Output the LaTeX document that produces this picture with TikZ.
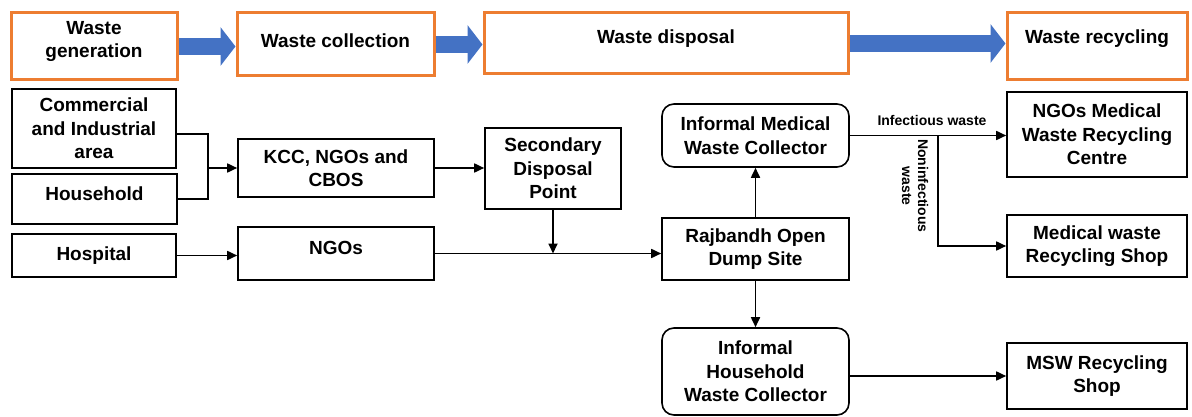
\documentclass[tikz,border=0pt]{standalone}
\usepackage{fontspec}
\setmainfont{Liberation Sans}
\usepackage{tikz}
\usetikzlibrary{arrows.meta}
\usepackage{xcolor}
\definecolor{kastenorange}{RGB}{237,125,49}
\definecolor{blau}{RGB}{68,114,196}
\newcommand{\grossschrift}{\bfseries\fontsize{19}{23.5}\selectfont}
\newcommand{\kleinschrift}{\bfseries\fontsize{14}{16}\selectfont}
\tikzset{
  kasten/.style={draw=black, line width=1.6pt, inner sep=0pt, align=center, font=\grossschrift},
  kopf/.style={kasten, draw=kastenorange, line width=3pt},
  rund/.style={kasten, rounded corners=12pt},
  hochtext/.style 2 args={label={[font=\grossschrift, align=center, yshift=#2]center:{#1}}},
  linie/.style={line width=1.7pt},
  pfeil/.style={linie, -{Triangle[length=10pt,width=9pt]}},
  blockpfeil/.style={blau, line width=17pt, -{Triangle[length=15pt,width=38pt]}},
  klein/.style={font=\kleinschrift, inner sep=1pt, align=center}
}

\begin{document}
\begin{tikzpicture}[x=1pt, y=-1pt]
    \useasboundingbox (0,0) rectangle (1192,417);

    % Kopfzeile
    \node[kopf, minimum width=166, minimum height=67, hochtext={Waste\\generation}{5pt}] (gen) at (94,46.5) {};
    \node[kopf, minimum width=197, minimum height=63, hochtext={Waste collection}{4pt}] (col) at (335.5,44.5) {};
    \node[kopf, minimum width=364, minimum height=61, hochtext={Waste disposal}{5pt}] (disp) at (666,43.5) {};
    \node[kopf, minimum width=180, minimum height=67, hochtext={Waste recycling}{8pt}] (rec) at (1097,46.5) {};

    \draw[blockpfeil] (gen.east) -- (gen.east -| col.west);
    \draw[blockpfeil] (col.east) -- (col.east -| disp.west);
    \draw[blockpfeil] (disp.east) -- (disp.east -| rec.west);

    % Quellen
    \node[kasten, minimum width=164, minimum height=79] (comm) at (94,128.5) {Commercial\\and Industrial\\area};
    \node[kasten, minimum width=165, minimum height=50, hochtext={Household}{5pt}] (house) at (94.5,199) {};
    \node[kasten, minimum width=164, minimum height=43] (hosp) at (94,255.5) {Hospital};

    % Sammlung
    \node[kasten, minimum width=196, minimum height=58] (kcc) at (336,168) {KCC, NGOs and\\CBOS};
    \node[kasten, minimum width=196, minimum height=53, hochtext={NGOs}{6pt}] (ngos) at (336,253.5) {};
    \node[kasten, minimum width=136, minimum height=81] (sec) at (553,168.5) {Secondary\\Disposal\\Point};

    % Deponie und Sammler
    \node[rund, minimum width=187, minimum height=63] (imed) at (755.5,135.5) {Informal Medical\\Waste Collector};
    \node[kasten, minimum width=187, minimum height=62] (raj) at (755.5,249) {Rajbandh Open\\Dump Site};
    \node[rund, minimum width=187, minimum height=87] (ihh) at (755.5,371.5) {Informal\\Household\\Waste Collector};

    % Verwertung
    \node[kasten, minimum width=180, minimum height=85] (nmed) at (1097,134.5) {NGOs Medical\\Waste Recycling\\Centre};
    \node[kasten, minimum width=180, minimum height=62] (mshop) at (1097,246) {Medical waste\\Recycling Shop};
    \node[kasten, minimum width=180, minimum height=66] (msw) at (1097,376) {MSW Recycling\\Shop};

    % Verbindungen
    \coordinate (knoten) at (208,168);
    \draw[linie] ([yshift=-5.5pt]comm.east) -| (knoten) |- (house.east);
    \draw[pfeil] (knoten) -- (kcc.west);
    \draw[pfeil] (hosp.east) -- (hosp.east -| ngos.west);
    \draw[pfeil] (kcc.east) -- (kcc.east -| sec.west);
    \draw[pfeil] (ngos.east) -- (ngos.east -| raj.west);
    \draw[pfeil] (sec.south) -- (sec.south |- ngos.east);
    \draw[pfeil] (raj.north) -- (imed.south);
    \draw[pfeil] (raj.south) -- (ihh.north);
    \draw[pfeil] (imed.east) -- (imed.east -| nmed.west);
    \coordinate (zweig) at (938,135.5);
    \draw[pfeil] (zweig) |- (mshop.west);
    \draw[pfeil] (ihh.east |- msw.west) -- (msw.west);

    % Beschriftungen
    \node[klein] (infekt) at (932,120) {Infectious waste};
    \node[klein, rotate=-90] (noninfekt) at (915,186) {Noninfectious\\waste};
\end{tikzpicture}
\end{document}
